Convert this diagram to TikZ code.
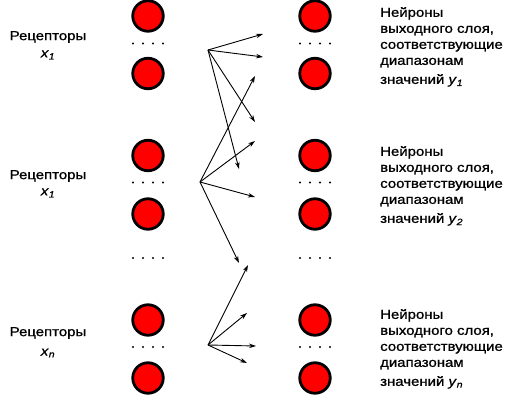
\documentclass[tikz,border=0pt]{standalone}
\usepackage{fontspec}
\setmainfont{Liberation Sans}[FakeStretch=1.15,FakeBold=1]
\usepackage{tikz}
\usetikzlibrary{arrows.meta}

\newcommand{\xvar}[1]{\textit{x}\textsubscript{\textit{#1}}}
\newcommand{\yvar}[1]{\textit{y}\textsubscript{\textit{#1}}}

\begin{document}
\begin{tikzpicture}[x=1pt,y=-1pt,
    neuron/.style={circle,draw=black,line width=2.8pt,fill=red,minimum size=30.5pt,inner sep=0pt},
    link/.style={-{Stealth[length=7pt,width=4.5pt]},line width=0.9pt},
    txt/.style={font=\fontsize{13}{16}\selectfont,inner sep=0pt}]
  \useasboundingbox (0,0) rectangle (506,401);
  \foreach \col/\x in {r/148,o/315}{
    \foreach \i/\y in {1/16,2/73.5,3/155.5,4/214,5/320,6/378}
      \node[neuron] (\col\i) at (\x,\y) {};
    \foreach \y in {43.5,182.5,258,347}
      \foreach \dx in {-15,-5,5,15}
        \fill (\x+\dx,\y) circle (1.1pt);
  }
  \node[txt] (rec1) at (48,37) {Рецепторы};
  \node[txt] (xin1) at (48,55) {\xvar{1}};
  \node[txt] (rec2) at (48,176) {Рецепторы};
  \node[txt] (xin2) at (48,193) {\xvar{1}};
  \node[txt] (rec3) at (48,333) {Рецепторы};
  \node[txt] (xin3) at (48,353) {\xvar{n}};
  \node[txt,anchor=north west,align=left] (out1) at (380,7)
    {Нейроны\\выходного слоя,\\соответствующие\\диапазонам\\[3pt]значений \yvar{1}};
  \node[txt,anchor=north west,align=left] (out2) at (380,146)
    {Нейроны\\выходного слоя,\\соответствующие\\диапазонам\\[3pt]значений \yvar{2}};
  \node[txt,anchor=north west,align=left] (out3) at (380,309)
    {Нейроны\\выходного слоя,\\соответствующие\\диапазонам\\[3pt]значений \yvar{n}};
  \coordinate (h1) at (208,50);
  \coordinate (h2) at (200,182);
  \coordinate (h3) at (208,345);
  \foreach \n/\x/\y in {a1/263/34,a2/263/57,a3/255/122,a4/239/169}{
    \coordinate (\n) at (\x,\y);
    \draw[link] (h1) -- (\n);
  }
  \foreach \n/\x/\y in {b1/255/76,b2/255/141,b3/255/197,b4/239/263}{
    \coordinate (\n) at (\x,\y);
    \draw[link] (h2) -- (\n);
  }
  \foreach \n/\x/\y in {c1/248/265,c2/247/313,c3/256/346,c4/247/363}{
    \coordinate (\n) at (\x,\y);
    \draw[link] (h3) -- (\n);
  }
\end{tikzpicture}
\end{document}
